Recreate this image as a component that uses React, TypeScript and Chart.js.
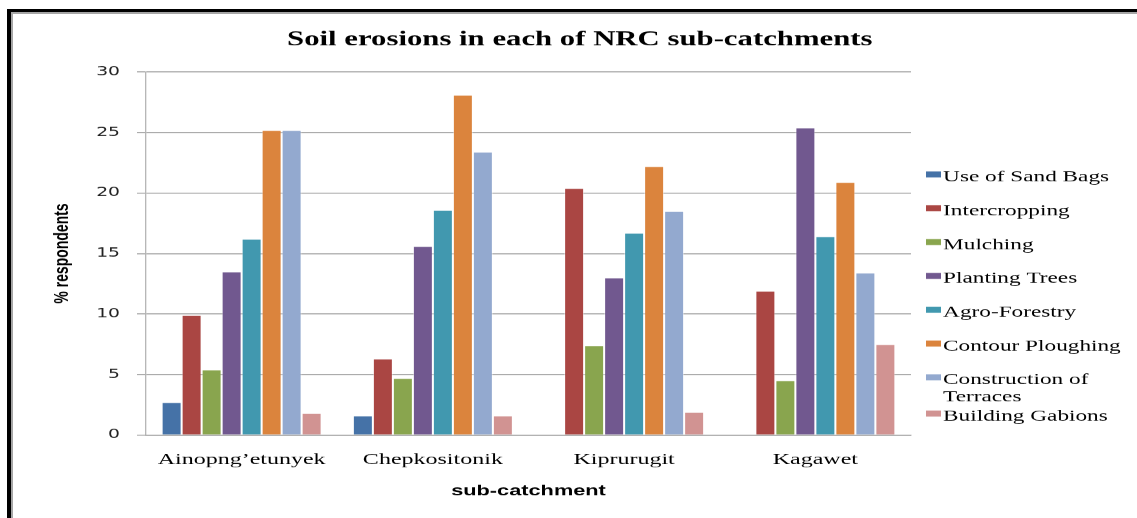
import React, { useEffect, useRef } from "react";
import { Chart, registerables } from "chart.js";

Chart.register(...registerables);

// ---------- data ----------
const TITLE = "Soil erosions in each of NRC sub-catchments";
const Y_TITLE = "% respondents";
const X_TITLE = "sub-catchment";

const categories = ["Ainopng\u2019etunyek", "Chepkositonik", "Kiprurugit", "Kagawet"];

const seriesNames = [
  "Use of Sand Bags",
  "Intercropping",
  "Mulching",
  "Planting Trees",
  "Agro-Forestry",
  "Contour Ploughing",
  "Construction of Terraces",
  "Building Gabions",
];

const useOfSandBags = [2.7, 1.6, 0, 0];
const intercropping = [9.9, 6.3, 20.4, 11.9];
const mulching = [5.4, 4.7, 7.4, 4.5];
const plantingTrees = [13.5, 15.6, 13.0, 25.4];
const agroForestry = [16.2, 18.6, 16.7, 16.4];
const contourPloughing = [25.2, 28.1, 22.2, 20.9];
const constructionOfTerraces = [25.2, 23.4, 18.5, 13.4];
const buildingGabions = [1.8, 1.6, 1.9, 7.5];

const seriesValues = [
  useOfSandBags,
  intercropping,
  mulching,
  plantingTrees,
  agroForestry,
  contourPloughing,
  constructionOfTerraces,
  buildingGabions,
];

const Y_MIN = 0;
const Y_MAX = 30;
const Y_STEP = 5;

// ---------- style ----------
const seriesColors = [
  "#4572A7",
  "#AA4643",
  "#89A54E",
  "#71588F",
  "#4198AF",
  "#DB843D",
  "#93A9CF",
  "#D19392",
];

const GRID = "#a0a0a0";
const STRETCH = 1.5; // the reference is horizontally stretched
const OUT_W = 1137;
const OUT_H = 518;
const W = OUT_W / STRETCH;
const PLOT_LEFT = 146 / STRETCH;
const PLOT_RIGHT = 911 / STRETCH;
const PLOT_BOTTOM = 435;
const PAD_LEFT = 15;

const legendPlugin = {
  id: "sideLegend",
  afterDraw(chart: any) {
    const ctx = chart.ctx as CanvasRenderingContext2D;
    const area = chart.chartArea;
    ctx.save();
    ctx.font = '15.5px "Liberation Serif", "Times New Roman", serif';
    ctx.textBaseline = "alphabetic";
    ctx.textAlign = "left";
    const boxX = area.right + 10;
    const textX = area.right + 21.4;
    const maxW = W - textX - 2;
    let extra = 0;
    chart.data.datasets.forEach((ds: any, i: number) => {
      const y = 176 + 33.8 * i + extra;
      ctx.fillStyle = ds.backgroundColor;
      ctx.fillRect(boxX, y - 4.5, 10, 6);
      const words = String(ds.label).split(" ");
      const lines: string[] = [];
      let cur = "";
      for (const w of words) {
        const test = cur ? cur + " " + w : w;
        if (cur && ctx.measureText(test).width > maxW) {
          lines.push(cur);
          cur = w;
        } else {
          cur = test;
        }
      }
      if (cur) lines.push(cur);
      ctx.fillStyle = "#000";
      lines.forEach((ln, j) => ctx.fillText(ln, textX, y + 5.5 + j * 17));
      extra += (lines.length - 1) * 2.4;
    });
    ctx.restore();
  },
};

export default function App() {
  const ref = useRef<HTMLCanvasElement>(null);

  useEffect(() => {
    const canvas = ref.current!;
    const chart = new Chart(canvas, {
      type: "bar",
      data: {
        labels: categories,
        datasets: seriesNames.map((name, i) => ({
          label: name,
          data: seriesValues[i],
          backgroundColor: seriesColors[i],
          borderColor: "rgba(255,255,255,0.45)",
          borderWidth: 0.67,
          borderSkipped: "start",
          categoryPercentage: 0.8366,
          barPercentage: 1.0,
          xAxisID: "x",
          yAxisID: "y",
        })),
      },
      options: {
        responsive: false,
        animation: false,
        devicePixelRatio: STRETCH,
        layout: { padding: { left: PAD_LEFT, right: 0, top: 14, bottom: 0 } },
        plugins: {
          legend: { display: false },
          tooltip: { enabled: false },
          title: {
            display: true,
            text: TITLE,
            color: "#000",
            font: { family: '"Liberation Serif", "Times New Roman", serif', size: 20.5, weight: "bold" },
            padding: { top: 13.7, bottom: 19.7 },
          },
        },
        scales: {
          x: {
            type: "category",
            position: "bottom",
            grid: { display: false, drawTicks: false },
            border: { display: true, color: GRID, width: 1 },
            ticks: {
              color: "#000",
              font: { family: '"Liberation Serif", "Times New Roman", serif', size: 16 },
              padding: 15,
            },
            title: {
              display: true,
              text: X_TITLE,
              color: "#000",
              font: { family: '"Liberation Sans", Arial, sans-serif', size: 14.5, weight: "bold" },
              padding: { top: 0, bottom: 18.3 },
            },
            afterFit: (s: any) => {
              s.height = OUT_H - PLOT_BOTTOM;
            },
          },
          y: {
            type: "linear",
            position: "left",
            min: Y_MIN,
            max: Y_MAX,
            grid: { color: GRID, lineWidth: 1, drawTicks: true, tickLength: 6, tickColor: GRID },
            border: { display: true, color: GRID, width: 0.67 },
            ticks: {
              stepSize: Y_STEP,
              color: "#222",
              font: { family: '"DejaVu Sans", Verdana, sans-serif', size: 12.5 },
              padding: 11.33,
            },
            title: {
              display: true,
              text: Y_TITLE,
              color: "#000",
              font: { family: '"Liberation Sans", Arial, sans-serif', size: 14, weight: "bold" },
              padding: { top: 17.9, bottom: 0 },
            },
            afterFit: (s: any) => {
              s.width = PLOT_LEFT - PAD_LEFT;
            },
          },
          yRight: {
            type: "linear",
            position: "right",
            display: true,
            grid: { display: false, drawTicks: false },
            border: { display: false },
            ticks: { display: false },
            afterFit: (s: any) => {
              s.width = W - PLOT_RIGHT;
            },
          },
        },
      } as any,
      plugins: [legendPlugin],
    });
    return () => chart.destroy();
  }, []);

  return (
    <div
      style={{
        position: "fixed",
        left: 0,
        top: 0,
        width: OUT_W,
        height: OUT_H,
        overflow: "hidden",
        background: "#fff",
      }}
    >
      <div
        style={{
          position: "absolute",
          left: 7,
          top: 9,
          right: -10,
          bottom: -10,
          borderTop: "3px solid #000",
          borderLeft: "4px solid #000",
        }}
      >
        <div
          style={{
            position: "absolute",
            left: 0,
            top: 0,
            right: 0,
            bottom: 0,
            borderTop: "2px solid #a6a6a6",
            borderLeft: "2px solid #a6a6a6",
          }}
        />
      </div>
      <canvas
        ref={ref}
        width={W}
        height={OUT_H}
        style={{ position: "absolute", left: 0, top: 0, width: OUT_W, height: OUT_H }}
      />
    </div>
  );
}
